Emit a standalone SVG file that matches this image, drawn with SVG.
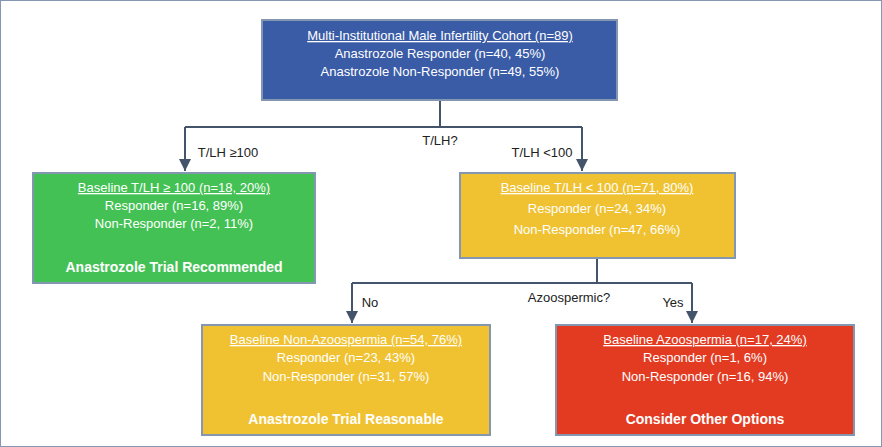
<svg xmlns="http://www.w3.org/2000/svg" width="882" height="447" viewBox="0 0 882 447">
<defs><marker id="ah" markerWidth="8" markerHeight="8" refX="4" refY="6" orient="auto-start-reverse" markerUnits="userSpaceOnUse"><path d="M0,0 L4,7 L8,0 Z" fill="#44546a" transform="rotate(0)"/></marker>
<marker id="a" viewBox="0 0 10 10" refX="10" refY="5" markerWidth="6" markerHeight="6" orient="auto"><path d="M0,0 L10,5 L0,10 Z" fill="#44546a"/></marker></defs>
<style>
text{font-family:"Liberation Sans Narrow","Liberation Sans",Arial,sans-serif;font-size:13px;text-anchor:middle}
.w{fill:#fff}.k{fill:#222}.u{text-decoration:underline}.b{font-weight:bold;font-size:14px}
.c{stroke:#44546a;stroke-width:2;fill:none}
rect{stroke:#8497b0;stroke-width:2}
</style>
<rect width="882" height="447" fill="#fff" stroke="none"/>
<g id="connectors">
<path class="c" d="M440,100 V127 M185,127 H582 M185,127 V171" marker-end="url(#a)"/>
<path class="c" d="M582,127 V171" marker-end="url(#a)"/>
<path class="c" d="M597,258 V283 M352,283 H692 M352,283 V323" marker-end="url(#a)"/>
<path class="c" d="M692,283 V323" marker-end="url(#a)"/>
<text class="k" x="440" y="145">T/LH?</text>
<text class="k" x="228" y="157">T/LH ≥100</text>
<text class="k" x="542" y="157">T/LH &lt;100</text>
<text class="k" x="370" y="307">No</text>
<text class="k" x="569" y="302">Azoospermic?</text>
<text class="k" x="673" y="307">Yes</text>
</g>
<g id="top"><rect x="262" y="20" width="355" height="80" fill="#3a5ba6" stroke="#2f4b8a"/>
<text class="w u" x="440" y="40">Multi-Institutional Male Infertility Cohort (n=89)</text>
<text class="w" x="440" y="58">Anastrozole Responder (n=40, 45%)</text>
<text class="w" x="440" y="76">Anastrozole Non-Responder (n=49, 55%)</text></g>
<g id="green"><rect x="33" y="173" width="282" height="110" fill="#44c155" stroke="#9db3c8"/>
<text class="w u" x="174" y="192">Baseline T/LH ≥ 100 (n=18, 20%)</text>
<text class="w" x="174" y="210">Responder (n=16, 89%)</text>
<text class="w" x="174" y="228">Non-Responder (n=2, 11%)</text>
<text class="w b" x="174" y="272">Anastrozole Trial Recommended</text></g>
<g id="yellow1"><rect x="460" y="173" width="275" height="85" fill="#f0c232" stroke="#9db3c8"/>
<text class="w u" x="597" y="192">Baseline T/LH &lt; 100 (n=71, 80%)</text>
<text class="w" x="597" y="213">Responder (n=24, 34%)</text>
<text class="w" x="597" y="234">Non-Responder (n=47, 66%)</text></g>
<g id="yellow2"><rect x="202" y="325" width="288" height="110" fill="#f0c232" stroke="#9db3c8"/>
<text class="w u" x="346" y="344">Baseline Non-Azoospermia (n=54, 76%)</text>
<text class="w" x="346" y="362">Responder (n=23, 43%)</text>
<text class="w" x="346" y="381">Non-Responder (n=31, 57%)</text>
<text class="w b" x="346" y="424">Anastrozole Trial Reasonable</text></g>
<g id="red"><rect x="556" y="325" width="298" height="110" fill="#e33b22" stroke="#9db3c8"/>
<text class="w u" x="705" y="344">Baseline Azoospermia (n=17, 24%)</text>
<text class="w" x="705" y="362">Responder (n=1, 6%)</text>
<text class="w" x="705" y="381">Non-Responder (n=16, 94%)</text>
<text class="w b" x="705" y="424">Consider Other Options</text></g>
</svg>
